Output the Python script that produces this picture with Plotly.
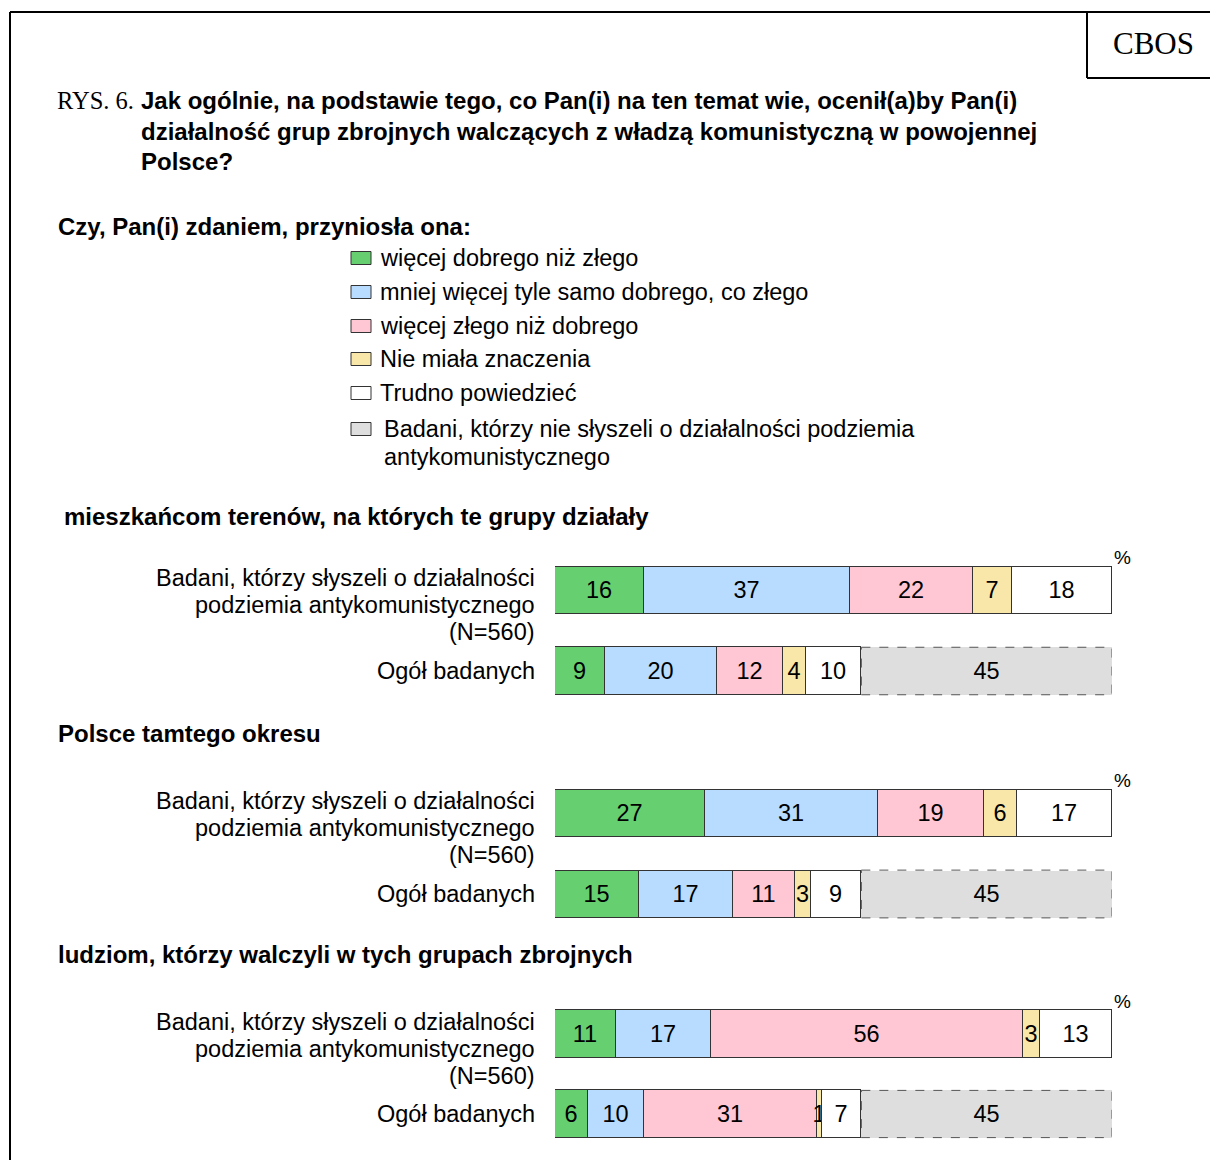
import plotly.graph_objects as go

W, H = 1210, 1160

# ---------------- data ----------------
categories = [
    "więcej dobrego niż złego",
    "mniej więcej tyle samo dobrego, co złego",
    "więcej złego niż dobrego",
    "Nie miała znaczenia",
    "Trudno powiedzieć",
    "Badani, którzy nie słyszeli o działalności podziemia antykomunistycznego",
]
legend_lines = [
    ["więcej dobrego niż złego"],
    ["mniej więcej tyle samo dobrego, co złego"],
    ["więcej złego niż dobrego"],
    ["Nie miała znaczenia"],
    ["Trudno powiedzieć"],
    ["Badani, którzy nie słyszeli o działalności podziemia", "antykomunistycznego"],
]
colors = ["#66CF70", "#B8DCFF", "#FFC7D3", "#F9E7A9", "#FFFFFF", "#DEDEDE"]

row_heard = "Badani, którzy słyszeli o działalności podziemia antykomunistycznego (N=560)"
row_all = "Ogół badanych"
row_heard_lines = ["Badani, którzy słyszeli o działalności",
                   "podziemia antykomunistycznego",
                   "(N=560)"]
rows = [row_heard, row_all]

section_titles = [
    "mieszkańcom terenów, na których te grupy działały",
    "Polsce tamtego okresu",
    "ludziom, którzy walczyli w tych grupach zbrojnych",
]
s1_heard = [16, 37, 22, 7, 18, None]
s1_all = [9, 20, 12, 4, 10, 45]
s2_heard = [27, 31, 19, 6, 17, None]
s2_all = [15, 17, 11, 3, 9, 45]
s3_heard = [11, 17, 56, 3, 13, None]
s3_all = [6, 10, 31, 1, 7, 45]
sections = [(s1_heard, s1_all), (s2_heard, s2_all), (s3_heard, s3_all)]

# ---------------- layout helpers (pixel -> paper) ----------------
def px(x):
    return x / W

def py(y):
    return 1 - y / H

SANS = "Arial, Liberation Sans, sans-serif"
SERIF = "Times New Roman, Liberation Serif, serif"
FS = 23.5      # regular text size
FSB = 24       # bold text size

bar_x0, bar_x1 = 555, 1112
row_centers = [(590.5, 671), (813, 894), (1034, 1114)]
title_y = [516, 733, 954]
title_x = [62, 56, 56]
heard_offsets = [-12, 15, 41.5]
bar_w = 0.59

fig = go.Figure()
shapes = []
annotations = []
layout_axes = {}

def txt(x, y, text, size=FS, anchor="left", family=SANS, bold=False):
    annotations.append(dict(xref="paper", yref="paper", x=px(x), y=py(y),
                            text=("<b>" + text + "</b>") if bold else text,
                            showarrow=False, xanchor=anchor, yanchor="middle",
                            font=dict(family=family, size=size, color="black")))

for i, (heard, allv) in enumerate(sections):
    k = i + 1
    xa = "x" if k == 1 else f"x{k}"
    ya = "y" if k == 1 else f"y{k}"
    for j, cat in enumerate(categories):
        vals = [heard[j], allv[j]]
        is_gray = j == 5
        fig.add_trace(go.Bar(
            orientation="h",
            y=rows,
            x=vals,
            name=cat,
            xaxis=xa, yaxis=ya,
            width=bar_w,
            marker=dict(color=colors[j],
                        line=dict(color="#333333", width=0 if is_gray else 1)),
            text=[("" if v is None else str(v)) for v in vals],
            textposition="inside",
            insidetextanchor="middle",
            textangle=0,
            textfont=dict(family=SANS, size=FS, color="black"),
            showlegend=False,
            hoverinfo="skip",
        ))
    # dashed outline of the "not heard" segment, computed from data
    gx0 = sum(allv[:5])
    gx1 = gx0 + allv[5]
    shapes.append(dict(type="rect", xref=xa, yref=ya,
                       x0=gx0, x1=gx1, y0=1 - bar_w / 2, y1=1 + bar_w / 2,
                       line=dict(color="#555555", width=1, dash="dash"),
                       fillcolor="rgba(0,0,0,0)", layer="above"))

    c1, c2 = row_centers[i]
    sp = c2 - c1
    dom_top = c1 - sp / 2
    dom_bot = c2 + sp / 2
    xname = "xaxis" if k == 1 else f"xaxis{k}"
    yname = "yaxis" if k == 1 else f"yaxis{k}"
    layout_axes[xname] = dict(domain=[px(bar_x0), px(bar_x1)], range=[0, 100],
                              visible=False, anchor=ya, fixedrange=True)
    layout_axes[yname] = dict(domain=[py(dom_bot), py(dom_top)], type="category",
                              categoryorder="array", categoryarray=rows,
                              range=[1.5, -0.5], visible=False, anchor=xa,
                              fixedrange=True)

    # row labels
    for line, off in zip(row_heard_lines, heard_offsets):
        annotations.append(dict(xref="paper", yref=ya, x=px(537), y=row_heard,
                                text=line, showarrow=False, xanchor="right",
                                yanchor="middle", yshift=-off,
                                font=dict(family=SANS, size=FS, color="black")))
    annotations.append(dict(xref="paper", yref=ya, x=px(537), y=row_all,
                            text=row_all, showarrow=False, xanchor="right",
                            yanchor="middle",
                            font=dict(family=SANS, size=FS, color="black")))
    # percent sign
    txt(1112, c1 - 33, "%", size=19)
    # section title
    txt(title_x[i], title_y[i], section_titles[i], size=FSB, bold=True)

# ---------------- header ----------------
txt(1153, 44, "CBOS", size=31, anchor="center", family=SERIF)
txt(55, 100, "RYS. 6.", size=24.5, family=SERIF)
title_lines = [
    "Jak ogólnie, na podstawie tego, co Pan(i) na ten temat wie, ocenił(a)by Pan(i)",
    "działalność grup zbrojnych walczących z władzą komunistyczną w powojennej",
    "Polsce?",
]
for t, yy in zip(title_lines, [100, 131, 161]):
    txt(139, yy, t, size=FSB, bold=True)
txt(56, 226, "Czy, Pan(i) zdaniem, przyniosła ona:", size=FSB, bold=True)

# ---------------- legend (manual) ----------------
leg_y = [258, 292, 326, 359, 393, 429]
for j, lines in enumerate(legend_lines):
    yy = leg_y[j]
    shapes.append(dict(type="rect", xref="paper", yref="paper",
                       x0=px(351), x1=px(371), y0=py(yy + 6.5), y1=py(yy - 6.5),
                       fillcolor=colors[j], line=dict(color="#333333", width=1)))
    tx = 382 if j == 5 else 378
    for n, line in enumerate(lines):
        txt(tx, yy + n * 28, line)

# ---------------- frame ----------------
frame = [((10, 12), (W, 12)), ((10, 12), (10, H)), ((1087, 12), (1087, 78)), ((1087, 78), (W, 78))]
for (a, b) in frame:
    shapes.append(dict(type="line", xref="paper", yref="paper",
                       x0=px(a[0]), y0=py(a[1]), x1=px(b[0]), y1=py(b[1]),
                       line=dict(color="black", width=2)))

fig.update_layout(
    width=W, height=H,
    margin=dict(l=0, r=0, t=0, b=0),
    barmode="stack",
    bargap=0,
    paper_bgcolor="white",
    plot_bgcolor="white",
    showlegend=False,
    uniformtext=dict(minsize=FS, mode="show"),
    shapes=shapes,
    annotations=annotations,
    **layout_axes,
)

fig.write_html("out.html", config={"displayModeBar": False},
               post_script="document.body.style.margin='0';")
